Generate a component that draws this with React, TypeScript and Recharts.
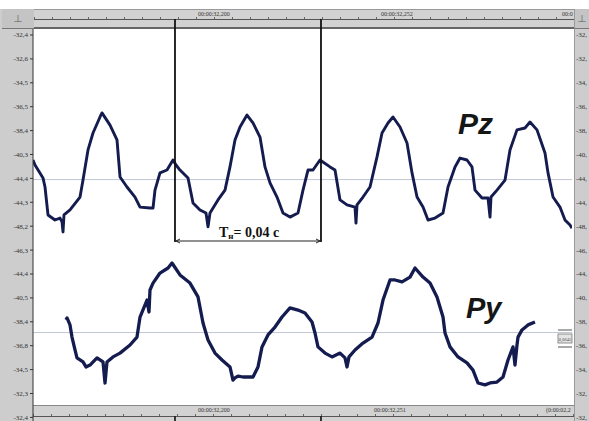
import React from 'react';
import { LineChart, Line, XAxis, YAxis, ReferenceLine } from 'recharts';

// time in ms from the left edge of the record, level in scale divisions (0 = top label)
const PZ_T = [0, 0.55, 2.74, 3.29, 4.11, 6.03, 7.4, 7.95, 8.22, 8.49, 10.14, 12.88, 13.7, 15.07, 16.44, 18.36, 18.9, 21.1, 23.01, 23.84, 25.75, 27.95, 29.32, 32.05, 32.88, 33.42, 34.79, 36.71, 38.36, 39.18, 40.27, 42.47, 43.84, 45.75, 47.4, 47.95, 48.49, 50.68, 52.6, 53.97, 55.34, 56.71, 58.63, 60.27, 62.19, 63.56, 64.93, 66.85, 68.49, 70.41, 72.6, 73.97, 75.34, 76.71, 78.63, 81.37, 82.74, 84.11, 86.03, 88.22, 88.49, 88.77, 90.41, 92.33, 94.25, 95.62, 97.26, 98.63, 100.55, 102.47, 103.84, 105.21, 106.85, 108.22, 110.14, 112.33, 113.7, 115.62, 116.99, 118.9, 120.27, 121.1, 123.01, 124.66, 125.21, 125.48, 127.12, 129.32, 130.68, 132.6, 134.79, 136.16, 138.08, 140.27, 141.1, 142.47, 144.38, 145.75, 147.12, 147.67];
const PZ_V = [5.23, 5.44, 5.98, 6.36, 7.53, 7.74, 7.66, 7.82, 8.24, 7.53, 7.32, 6.78, 6.07, 4.81, 4.1, 3.43, 3.26, 3.77, 4.39, 5.94, 6.36, 6.78, 7.2, 7.24, 7.24, 6.49, 5.77, 5.65, 5.23, 5.44, 5.65, 5.98, 7.03, 7.32, 7.45, 8.03, 7.45, 6.9, 6.49, 5.52, 4.39, 3.85, 3.35, 3.68, 4.27, 5.52, 6.19, 6.78, 7.45, 7.62, 7.45, 6.49, 5.65, 5.65, 5.23, 5.52, 5.65, 6.9, 7.11, 7.2, 7.87, 7.11, 6.78, 6.36, 5.1, 4.1, 3.68, 3.43, 3.85, 4.52, 5.77, 6.78, 7.2, 7.74, 7.66, 7.45, 6.36, 5.52, 5.15, 5.23, 5.52, 6.49, 6.82, 6.82, 7.62, 6.78, 6.49, 6.07, 4.81, 3.97, 3.89, 3.64, 3.97, 4.94, 5.77, 6.78, 7.2, 7.74, 7.95, 8.08];

const PY_T = [9.04, 9.32, 10.14, 10.68, 11.51, 12.05, 13.7, 14.52, 15.62, 17.53, 19.18, 19.73, 20.27, 21.92, 23.84, 26.58, 28.49, 29.32, 31.23, 31.78, 32.05, 32.88, 34.79, 36.99, 38.08, 40.27, 43.01, 45.21, 46.58, 47.95, 49.86, 51.78, 53.97, 54.79, 55.34, 56.16, 57.53, 60.27, 61.64, 62.74, 64.38, 66.3, 68.22, 70.41, 72.6, 74.52, 76.44, 77.26, 78.08, 80.0, 81.92, 84.11, 85.48, 86.03, 86.58, 88.22, 90.41, 92.88, 94.52, 95.89, 97.81, 99.18, 101.1, 103.29, 104.66, 106.85, 108.77, 110.68, 112.33, 112.88, 114.25, 116.44, 118.9, 120.55, 121.92, 123.84, 125.21, 127.12, 128.77, 130.14, 131.51, 132.05, 132.6, 132.88, 133.97, 135.62, 137.53];
const PY_V = [11.92, 11.84, 12.13, 12.64, 13.18, 13.51, 13.68, 13.89, 13.81, 13.51, 13.68, 14.56, 13.68, 13.47, 13.31, 12.97, 12.64, 11.8, 11.09, 11.59, 10.67, 10.38, 9.96, 9.75, 9.54, 10.04, 10.38, 10.96, 12.05, 12.76, 13.31, 13.6, 13.89, 14.44, 14.35, 14.27, 14.31, 14.31, 13.89, 13.05, 12.55, 12.22, 11.8, 11.42, 11.51, 11.63, 12.01, 12.47, 13.05, 13.31, 13.47, 13.31, 13.51, 13.89, 13.47, 13.18, 12.89, 12.64, 12.05, 11.09, 10.25, 10.25, 10.33, 10.13, 9.75, 10.13, 10.38, 10.96, 11.8, 12.47, 13.05, 13.47, 13.72, 14.02, 14.56, 14.64, 14.56, 14.52, 14.31, 13.6, 13.05, 13.81, 12.97, 12.64, 12.34, 12.13, 12.01];

const Y_TICKS = [0, 1, 2, 3, 4, 5, 6, 7, 8, 9, 10, 11, 12, 13, 14, 15, 16];
const Y_LABELS = ['-32,4', '-32,6', '-34,5', '-36,5', '-38,4', '-40,3', '-44,4', '-44,3', '-48,2', '-46,3', '-44,4', '-40,5', '-38,4', '-36,8', '-34,5', '-32,3', '-32,4'];
const Y_DOMAIN = [-0.251, 16.151];
const X_DOMAIN = [0, 147.67];

const CURSORS = [38.9, 78.9];
const BASELINES = [6.05, 12.45];
const PERIOD_LEVEL = 8.62;
const CURSOR_TOP = -0.67;
const BOTTOM_MARK = [15.94, 16.2];

const TOP_TIMES = ['00:00:32,200', '00:00:32,252', '00:0'];
const BOTTOM_TIMES = ['00:00:32,200', '00:00:32,251', '(0:00:02,2'];

const pzData = PZ_T.map((t, i) => ({ t, v: PZ_V[i] }));
const pyData = PY_T.map((t, i) => ({ t, v: PY_V[i] }));

const TRACE = '#141c4f';
const GRAY = '#cdcdcd';
const serif = '"Liberation Serif", "DejaVu Serif", serif';

function Ruler({ labels, lefts, labelTop }: any) {
  return (
    <>
      {labels.map((l: string, i: number) => (
        <div key={i} style={{ position: 'absolute', left: lefts[i], top: labelTop, fontSize: 6, lineHeight: '7px', fontFamily: serif, color: '#333', whiteSpace: 'nowrap' }}>{l}</div>
      ))}
    </>
  );
}

export default function App() {
  return (
    <div style={{ position: 'absolute', left: 0, top: 0, width: 589, height: 421, background: '#fff', overflow: 'hidden' }}>
      {/* left strip */}
      <div style={{ position: 'absolute', left: 0, top: 9, width: 33, height: 412, background: GRAY }} />
      <div style={{ position: 'absolute', left: 2, top: 9, width: 32, height: 20, background: '#c4c4c4', borderBottom: '1px solid #777', boxSizing: 'border-box', color: '#777', fontSize: 10, textAlign: 'center', lineHeight: '19px', fontFamily: serif }}>⊥</div>
      {/* right strip */}
      <div style={{ position: 'absolute', left: 574, top: 9, width: 15, height: 412, background: GRAY, borderLeft: '1px solid #999', boxSizing: 'border-box' }} />
      <div style={{ position: 'absolute', left: 574, top: 9, width: 15, height: 20, background: '#c4c4c4', borderBottom: '1px solid #777', borderLeft: '1px solid #999', boxSizing: 'border-box', color: '#777', fontSize: 10, textAlign: 'center', lineHeight: '19px', fontFamily: serif }}>⊥</div>
      {/* top bar */}
      <div style={{ position: 'absolute', left: 34, top: 9, width: 540, height: 20, background: '#d2d2d2', borderTop: '1px solid #999', borderBottom: '2px solid #666', boxSizing: 'border-box', overflow: 'hidden' }}>
        <div style={{ position: 'absolute', left: 0, top: 9, width: '100%', height: 1, background: '#555' }} />
        <div style={{ position: 'absolute', left: 0, top: 7, width: '100%', height: 2, backgroundImage: 'repeating-linear-gradient(to right, #666 0px, #666 1px, transparent 1px, transparent 18px)' }} />
        <Ruler labels={TOP_TIMES} lefts={[164, 347, 528]} labelTop={1} />
      </div>
      {/* bottom bar */}
      <div style={{ position: 'absolute', left: 33, top: 405, width: 541, height: 16, background: '#d2d2d2', borderTop: '1px solid #888', boxSizing: 'border-box', overflow: 'hidden' }}>
        <div style={{ position: 'absolute', left: 0, top: 10, width: '100%', height: 1, background: '#555' }} />
        <div style={{ position: 'absolute', left: 0, top: 8, width: '100%', height: 2, backgroundImage: 'repeating-linear-gradient(to right, #666 0px, #666 1px, transparent 1px, transparent 18px)' }} />
        <Ruler labels={BOTTOM_TIMES} lefts={[165, 341, 513]} labelTop={1} />
      </div>

      <div style={{ position: 'absolute', left: 0, top: 0 }}>
        <LineChart width={589} height={421} margin={{ top: 29, right: 0, bottom: 0, left: 0 }}>
          <XAxis dataKey="t" type="number" domain={X_DOMAIN} allowDataOverflow hide />
          <YAxis yAxisId="l" orientation="left" width={33} type="number" domain={Y_DOMAIN} reversed allowDataOverflow ticks={Y_TICKS} interval={0}
            tickFormatter={(v: number) => Y_LABELS[v] ?? ''} tick={{ fontSize: 7, fill: '#333', fontFamily: serif }}
            tickSize={3} tickMargin={2} axisLine={{ stroke: '#333' }} tickLine={{ stroke: '#333' }} />
          <YAxis yAxisId="r" orientation="right" width={17} type="number" domain={Y_DOMAIN} reversed allowDataOverflow ticks={Y_TICKS} interval={0}
            tickFormatter={(v: number) => (Y_LABELS[v] ?? '').slice(0, 4)} tick={{ fontSize: 7, fill: '#333', fontFamily: serif, textAnchor: 'start' }}
            tickSize={0} tickMargin={4} axisLine={false} tickLine={false} />
          {BASELINES.map((b, i) => (
            <ReferenceLine key={'b' + i} yAxisId="l" y={b} stroke="#c2c5d6" strokeWidth={1} />
          ))}
          <Line yAxisId="l" data={pzData} dataKey="v" stroke={TRACE} strokeWidth={2.9} dot={false} isAnimationActive={false} strokeLinejoin="round" />
          <Line yAxisId="l" data={pyData} dataKey="v" stroke={TRACE} strokeWidth={3.3} dot={false} isAnimationActive={false} strokeLinejoin="round" />
          {CURSORS.map((c, i) => (
            <ReferenceLine key={'c' + i} yAxisId="l" segment={[{ x: c, y: CURSOR_TOP }, { x: c, y: PERIOD_LEVEL + 0.04 }]} stroke="#111" strokeWidth={1.8} ifOverflow="visible" />
          ))}
          {CURSORS.map((c, i) => (
            <ReferenceLine key={'m' + i} yAxisId="l" segment={[{ x: c, y: BOTTOM_MARK[0] }, { x: c, y: BOTTOM_MARK[1] }]} stroke="#222" strokeWidth={1.8} ifOverflow="visible" />
          ))}
          <ReferenceLine yAxisId="l" segment={[{ x: CURSORS[0], y: PERIOD_LEVEL }, { x: CURSORS[1], y: PERIOD_LEVEL }]} stroke="#222" strokeWidth={1} ifOverflow="visible" />
        </LineChart>
      </div>

      <svg width={589} height={421} style={{ position: 'absolute', left: 0, top: 0, pointerEvents: 'none' }}>
        <path d="M180,239 L176,241 L180,243 M316,239 L320,241 L316,243" stroke="#222" strokeWidth={1} fill="none" />
        <text x={219} y={237} fontFamily={serif} fontWeight="bold" fontSize={14} fill="#111">T<tspan fontSize={9} dy={2}>н</tspan><tspan dy={-2}>= 0,04 c</tspan></text>
        <text x={458} y={134} fontFamily='"Liberation Sans", Arial, sans-serif' fontWeight="bold" fontStyle="italic" fontSize={30} fill="#161616">Pz</text>
        <text x={466} y={318} fontFamily='"Liberation Sans", Arial, sans-serif' fontWeight="bold" fontStyle="italic" fontSize={29} fill="#161616">Py</text>
        <line x1={558} y1={330} x2={572} y2={330} stroke="#555" strokeWidth={1} />
        <rect x={558} y={334} width={14} height={9} fill="#e4e4e4" stroke="#777" strokeWidth={0.8} />
        <text x={565} y={341} fontSize={4.5} textAnchor="middle" fontFamily={serif} fill="#444">0,0645</text>
        <line x1={558} y1={347} x2={572} y2={347} stroke="#555" strokeWidth={1} />
      </svg>
    </div>
  );
}
